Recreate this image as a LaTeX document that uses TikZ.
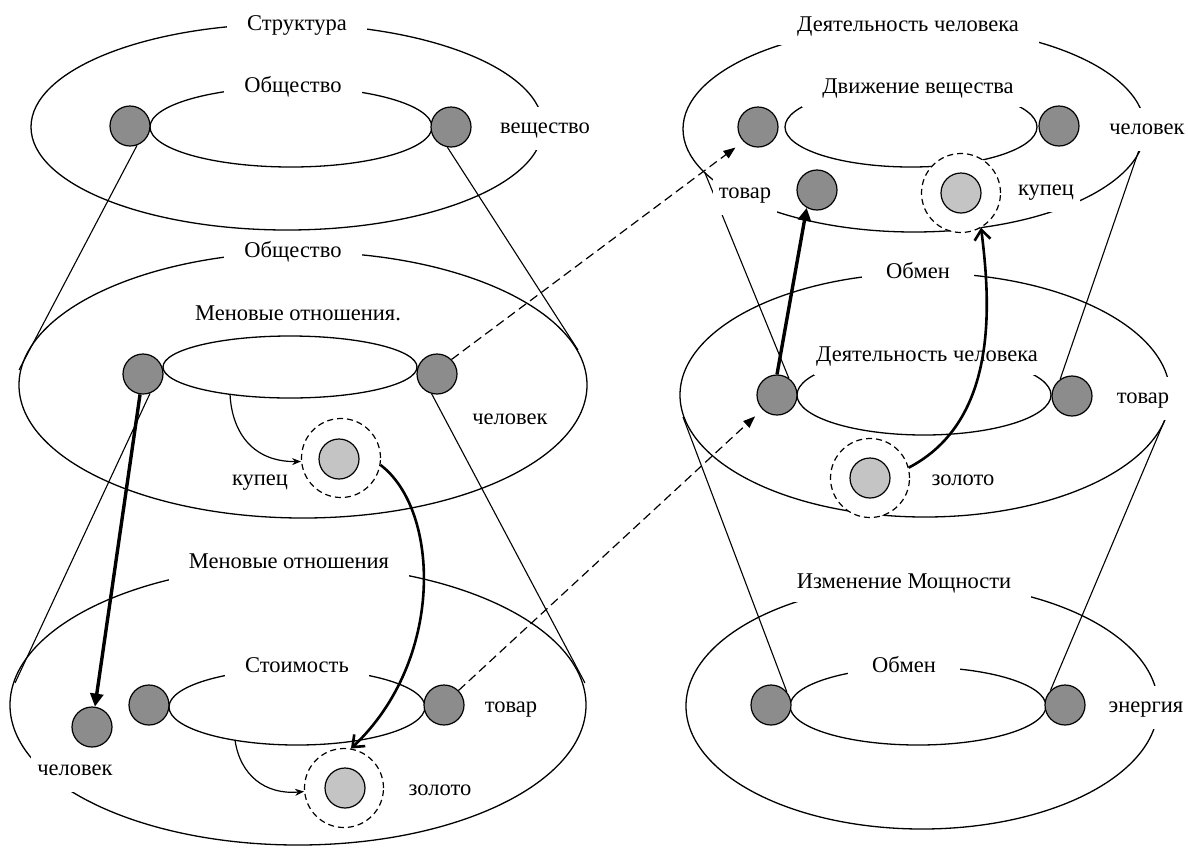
\documentclass[tikz,border=0pt]{standalone}
\usepackage{fontspec}
\setmainfont{Liberation Serif}
\usepackage{tikz}
\usetikzlibrary{arrows.meta}
\definecolor{dotdark}{HTML}{8C8C8C}
\definecolor{dotlight}{HTML}{C4C4C4}
\tikzset{
  ring/.style={draw=black, line width=0.65pt},
  cone/.style={draw=black, line width=0.55pt},
  dot/.style={circle, draw=black, line width=0.6pt, fill=dotdark, minimum size=20pt, inner sep=0pt},
  coin/.style={circle, draw=black, line width=0.6pt, fill=dotlight, minimum size=20pt, inner sep=0pt},
  halo/.style={circle, draw=black, line width=0.6pt, dash pattern=on 3pt off 2pt, fill=white, minimum size=39.5pt, inner sep=0pt},
  lab/.style={font=\fontsize{11.25}{13}\selectfont, text height=8pt, text depth=2.5pt, inner sep=0pt},
  tag/.style={lab, inner xsep=3pt, inner ysep=2pt},
  title/.style={lab, fill=white, inner xsep=10pt, inner ysep=4pt},
  side/.style={lab, fill=white, inner xsep=3pt, inner ysep=5.5pt},
  link/.style={draw=black, line width=0.6pt, dash pattern=on 4.5pt off 2.5pt, -{Triangle[length=6pt,width=4.5pt]}, shorten >=5pt},
  push/.style={draw=black, line width=1.7pt, -{Triangle[length=6.5pt,width=6.5pt]}},
  swing/.style={draw=black, line width=1.3pt, -{Straight Barb[length=5pt,width=8pt]}},
  hook/.style={draw=black, line width=0.6pt, -{Stealth[length=4.5pt,width=3.5pt]}},
}
\begin{document}
\begin{tikzpicture}[x=0.5pt, y=-0.5pt]
  \useasboundingbox (0,0) rectangle (1188,847);

  % left column
  \draw[ring] (287,127) ellipse [x radius=256, y radius=103];
  \draw[ring] (291,127) ellipse [x radius=141, y radius=40];
  \draw[ring] (303,385) ellipse [x radius=284, y radius=133];
  \draw[ring] (290,367) ellipse [x radius=127, y radius=31];
  \draw[ring] (298,705) ellipse [x radius=288, y radius=140];
  \draw[ring] (297,707) ellipse [x radius=128, y radius=38];

  % right column
  \draw[ring] (914,129) ellipse [x radius=231, y radius=103];
  \draw[ring] (911,127) ellipse [x radius=126, y radius=40];
  \draw[ring] (925,395) ellipse [x radius=245, y radius=122];
  \draw[ring] (924,395) ellipse [x radius=127, y radius=40];
  \draw[ring] (922,706) ellipse [x radius=236, y radius=123];
  \draw[ring] (918,706) ellipse [x radius=128, y radius=39];

  \coordinate (c2l) at (19,370);
  \coordinate (c2r) at (578,350);
  \coordinate (c3l) at (15,683);
  \coordinate (c3r) at (585,683);
  \coordinate (e1l) at (705,173);
  \coordinate (e1r) at (1139,150);
  \coordinate (e2l) at (683,417);
  \coordinate (e2r) at (1166,417);
  \coordinate (i2b) at (230,394);
  \coordinate (i3b) at (235,740);

  \node[dot] (s1l) at (130,126) {};
  \node[dot] (s1r) at (451,127) {};
  \node[dot] (s2l) at (143,374) {};
  \node[dot] (s2r) at (437,374) {};
  \node[halo] (k2) at (341,458) {};
  \node[coin] (g2) at (339,459) {};
  \node[dot] (s3l) at (149,705) {};
  \node[dot] (s3r) at (444,705) {};
  \node[dot] (h3) at (92,727) {};
  \node[halo] (k3) at (344,788) {};
  \node[coin] (g3) at (345,788) {};

  \node[dot] (m1l) at (758,127) {};
  \node[dot] (m1r) at (1059,126) {};
  \node[dot] (m1g) at (817,190) {};
  \node[halo] (k4) at (961,193) {};
  \node[coin] (g4) at (961,193) {};
  \node[dot] (m2l) at (777,395) {};
  \node[dot] (m2r) at (1072,396) {};
  \node[halo] (k5) at (870,478) {};
  \node[coin] (g5) at (870,478) {};
  \node[dot] (m3l) at (771,705) {};
  \node[dot] (m3r) at (1065,705) {};

  \draw[cone] (s1l.-70) -- (c2l);
  \draw[cone] (s1r.-100) -- (c2r);
  \draw[cone] (s2l.-70) -- (c3l);
  \draw[cone] (s2r.-105) -- (c3r);
  \draw[cone] (e1l) -- (m2l.55);
  \draw[cone] (e1r) -- (m2r.125);
  \draw[cone] (e2l) -- (m3l.40);
  \draw[cone] (e2r) -- (m3r.135);

  \node[title] (t1top) at (297,25) {Структура};
  \node[title] (t1in) at (293,87) {Общество};
  \node[side] (t1sub) at (545,128) {вещество};
  \node[title] (t2top) at (293,252) {Общество};
  \node[tag] (t2in) at (298,315) {Меновые отношения.};
  \node[tag] (t2kup) at (260,480) {купец};
  \node[side, anchor=west, inner ysep=2pt] (t2hum) at (466,419) {человек\hspace{15pt}};
  \node[title] (t3top) at (289,563) {Меновые отношения};
  \node[title] (t3in) at (297,667) {Стоимость};
  \node[tag] (t3tov) at (511,707) {товар};
  \node[side] (t3hum) at (75,770) {человек};
  \node[tag] (t3zol) at (440,790) {золото};

  \node[title] (r1top) at (908,26) {Деятельность человека};
  \node[title] (r1in) at (918,88) {Движение вещества};
  \node[side] (r1hum) at (1147,129) {человек};
  \node[side] (r1tov) at (745,193) {товар};
  \node[side] (r1kup) at (1046,190) {купец};
  \node[title, inner xsep=12pt] (r2top) at (918,273) {Обмен};
  \node[title, inner xsep=1pt] (r2in) at (927,356) {Деятельность человека};
  \node[side] (r2tov) at (1143,398) {товар};
  \node[tag] (r2zol) at (963,480) {золото};
  \node[title] (r3top) at (904,583) {Изменение Мощности};
  \node[title, inner xsep=12pt] (r3in) at (904,667) {Обмен};
  \node[side] (r3en) at (1146,707) {энергия};

  \draw[link] (s2r.north east) -- (m1l.south west);
  \draw[link] (s3r.north east) -- (m2l.south west);
  \draw[push] (s2l) -- (h3);
  \draw[push] (m2l.north) -- (m1g.240);
  \draw[swing] (k2.-10) .. controls (440,510) and (445,660) .. (k3.80);
  \draw[swing] (k5.15) .. controls (1000,420) and (990,300) .. (k4.-60);
  \draw[hook] (i2b) .. controls (232,435) and (255,462) .. (k2.185);
  \draw[hook] (i3b) .. controls (240,775) and (265,795) .. (k3.185);
\end{tikzpicture}
\end{document}
